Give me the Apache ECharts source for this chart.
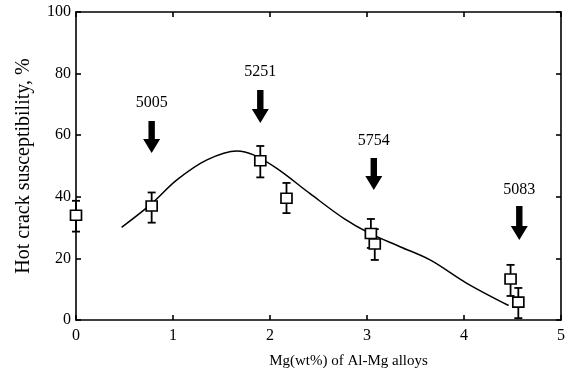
<!DOCTYPE html>
<html>
<head>
<meta charset="utf-8">
<script src="https://cdn.jsdelivr.net/npm/echarts@6/dist/echarts.min.js"></script>
<style>html,body{margin:0;padding:0;background:#fff;}#c{width:570px;height:378px;}</style>
</head>
<body>
<div id="c"></div>
<script>
// Measured points (Mg wt%, susceptibility %)
var ptX = [0, 0.78, 1.9, 2.17, 3.04, 3.08, 4.48, 4.56];
var ptY = [34, 37, 51.7, 39.5, 28.1, 24.7, 13.3, 5.8];
var errLo = [28.7, 31.6, 46.3, 34.7, 23.4, 19.5, 7.8, 0.6];
var errHi = [38.7, 41.4, 56.5, 44.5, 32.8, 29.5, 17.9, 10.4];

// Fitted curve
var curveX = [0.47, 0.78, 1.04, 1.35, 1.66, 1.83, 2.07, 2.41, 2.76, 3.03, 3.34, 3.65, 4.03, 4.46];
var curveY = [30.1, 37.8, 45.5, 52, 54.9, 53.6, 49.2, 41.1, 33, 28.1, 23.8, 19.5, 11.9, 4.7];

// Alloy arrows
var alloyNames = ['5005', '5251', '5754', '5083'];
var alloyX = [0.78, 1.9, 3.07, 4.57];
var arrowTop = [64.6, 74.7, 52.6, 37];
var arrowTip = [54.2, 64, 42.2, 26];
var labelY = [70.4, 80.5, 58.1, 42.2];

var xTicks = [0, 1, 2, 3, 4, 5];
var yTicks = [0, 20, 40, 60, 80, 100];

var FONT = 'Liberation Serif';

var points = ptX.map(function (x, i) { return [x, ptY[i]]; });
var errData = ptX.map(function (x, i) { return [x, errLo[i], errHi[i]]; });
var curve = curveX.map(function (x, i) { return [x, curveY[i]]; });
var arrows = alloyX.map(function (x, i) { return [x, arrowTop[i], arrowTip[i], labelY[i]]; });

var chart = echarts.init(document.getElementById('c'), null, {renderer: 'canvas'});

function axisCommon() {
  return {
    min: 0,
    axisLine: {show: true, onZero: false, lineStyle: {color: '#000', width: 1.6}},
    axisTick: {show: true, inside: true, length: 5, lineStyle: {color: '#000', width: 1.6}},
    splitLine: {show: false}
  };
}

chart.setOption({
  animation: false,
  backgroundColor: '#fff',
  grid: {left: 76, right: 9, top: 12, bottom: 58},
  xAxis: [
    Object.assign(axisCommon(), {
      type: 'value', max: 5, interval: 1, position: 'bottom',
      axisLabel: {color: '#000', fontFamily: FONT, fontSize: 16, margin: 8},
      name: 'Mg(wt%) of Al-Mg alloys', nameLocation: 'middle', nameGap: 34,
      nameTextStyle: {color: '#000', fontFamily: FONT, fontSize: 15, padding: [0, 0, 0, 60]}
    }),
    Object.assign(axisCommon(), {
      type: 'value', max: 5, interval: 1, position: 'top',
      axisLabel: {show: false}
    })
  ],
  yAxis: [
    Object.assign(axisCommon(), {
      type: 'value', max: 100, interval: 20, position: 'left',
      axisLabel: {color: '#000', fontFamily: FONT, fontSize: 16, margin: 5},
      name: 'Hot crack susceptibility, %', nameLocation: 'middle', nameGap: 42,
      nameTextStyle: {color: '#000', fontFamily: FONT, fontSize: 20}
    }),
    Object.assign(axisCommon(), {
      type: 'value', max: 100, interval: 20, position: 'right',
      axisLabel: {show: false}
    })
  ],
  series: [
    {
      type: 'line', data: curve, smooth: 0.35, showSymbol: false,
      lineStyle: {color: '#000', width: 1.5}, z: 2
    },
    {
      type: 'custom', data: errData, z: 3,
      renderItem: function (params, api) {
        var x = api.value(0);
        var lo = api.coord([x, api.value(1)]);
        var hi = api.coord([x, api.value(2)]);
        var w = 4;
        var st = {stroke: '#000', lineWidth: 1.8};
        return {type: 'group', children: [
          {type: 'line', shape: {x1: lo[0], y1: lo[1], x2: hi[0], y2: hi[1]}, style: st},
          {type: 'line', shape: {x1: lo[0] - w, y1: lo[1], x2: lo[0] + w, y2: lo[1]}, style: st},
          {type: 'line', shape: {x1: hi[0] - w, y1: hi[1], x2: hi[0] + w, y2: hi[1]}, style: st}
        ]};
      }
    },
    {
      type: 'scatter', data: points, symbol: 'rect', symbolSize: [11, 10], z: 4,
      itemStyle: {color: '#fff', borderColor: '#000', borderWidth: 1.6, opacity: 1}
    },
    {
      type: 'custom', data: arrows, z: 5,
      renderItem: function (params, api) {
        var x = api.value(0);
        var top = api.coord([x, api.value(1)]);
        var tip = api.coord([x, api.value(2)]);
        var lab = api.coord([x, api.value(3)]);
        var name = alloyNames[params.dataIndex];
        var sw = 3.2, hw = 8.5, hl = 14;
        var cx = top[0];
        var pts = [
          [cx - sw, top[1]], [cx + sw, top[1]], [cx + sw, tip[1] - hl],
          [cx + hw, tip[1] - hl], [cx, tip[1]], [cx - hw, tip[1] - hl], [cx - sw, tip[1] - hl]
        ];
        return {type: 'group', children: [
          {type: 'polygon', shape: {points: pts}, style: {fill: '#000'}},
          {type: 'text', x: cx, y: lab[1], style: {text: name, fill: '#000', font: '16px "' + FONT + '"', textAlign: 'center', textVerticalAlign: 'middle'}}
        ]};
      }
    }
  ]
});
</script>
</body>
</html>
